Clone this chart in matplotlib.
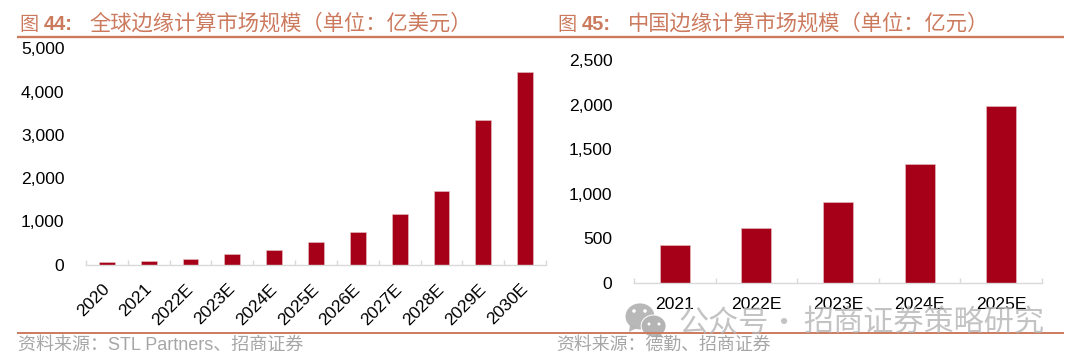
import matplotlib
matplotlib.use("Agg")
import matplotlib.pyplot as plt
from matplotlib.patches import Ellipse, Polygon
from matplotlib.transforms import ScaledTranslation

plt.rcParams['font.family'] = ['Liberation Sans', 'Noto Sans CJK SC']

# data
global_years = ["2020", "2021", "2022E", "2023E", "2024E", "2025E",
                "2026E", "2027E", "2028E", "2029E", "2030E"]
global_values = [56, 80, 128, 248, 333, 518, 764, 1174, 1713, 3343, 4454]
global_ticks = [0, 1000, 2000, 3000, 4000, 5000]

china_years = ["2021", "2022E", "2023E", "2024E", "2025E"]
china_values = [424, 619, 905, 1339, 1988]
china_ticks = [0, 500, 1000, 1500, 2000, 2500]

W, H = 1080, 363
RED = "#A50018"
RULE = "#CC7A5E"
GREY = "#A6A6A6"
CJK = ['Noto Sans CJK SC', 'Liberation Sans']

fig = plt.figure(figsize=(W / 100, H / 100), dpi=100)


def make_axes(x0, x1, y_top, y_bottom):
    return fig.add_axes([x0 / W, 1 - y_bottom / H, (x1 - x0) / W, (y_bottom - y_top) / H])


def draw_bars(ax, years, values, ticks, ymax, width, rotation):
    pos = list(range(len(years)))
    ax.bar(pos, values, width=width, color=RED, edgecolor="#E8C4C8", linewidth=0.4)
    ax.set_xlim(-0.5, len(years) - 0.5)
    ax.set_ylim(0, ymax)
    ax.set_yticks(ticks)
    ax.set_yticklabels([f"{t:,}" for t in ticks], fontsize=12.6, color="black")
    ax.tick_params(axis="y", length=0, pad=15.5)
    ax.set_xticks(pos)
    if rotation:
        ax.set_xticklabels(years, fontsize=12.6, rotation=rotation, ha="right",
                           rotation_mode="anchor")
        ax.tick_params(axis="x", which="major", length=0, pad=12)
        # nudge slanted labels left so their ends sit over the ticks
        shift = ScaledTranslation(-5 / 100, 0, fig.dpi_scale_trans)
        for lab in ax.get_xticklabels():
            lab.set_transform(lab.get_transform() + shift)
    else:
        ax.set_xticklabels(years, fontsize=12.6)
        ax.tick_params(axis="x", which="major", length=0, pad=10.5)
    ax.set_xticks([p - 0.5 for p in range(len(years) + 1)], minor=True)
    ax.tick_params(axis="x", which="minor", direction="in", length=3.6, width=1, color="#D9D9D9")
    for side in ["top", "right", "left"]:
        ax.spines[side].set_visible(False)
    ax.spines["bottom"].set_color("#D9D9D9")
    ax.spines["bottom"].set_linewidth(1)
    ax.patch.set_alpha(0)


ax1 = make_axes(86, 546, 48.5, 264.7)
draw_bars(ax1, global_years, global_values, global_ticks, 5000, 0.38, 45)

ax2 = make_axes(634, 1042, 60.5, 282.9)
draw_bars(ax2, china_years, china_values, china_ticks, 2500, 0.37, 0)

# overlay in pixel coordinates for titles, rules, notes and the watermark
ov = fig.add_axes([0, 0, 1, 1])
ov.set_xlim(0, W)
ov.set_ylim(H, 0)
ov.axis("off")
ov.patch.set_alpha(0)

ov.plot([17, 1064], [37, 37], color=RULE, lw=1.7, solid_capstyle="butt")
ov.plot([17, 1064], [333.3, 333.3], color=RULE, lw=1.4, solid_capstyle="butt")

for x, num, text in [(19, "44:", "全球边缘计算市场规模（单位：亿美元）"),
                     (557, "45:", "中国边缘计算市场规模（单位：亿元）")]:
    ov.text(x, 24, "图", fontsize=13.8, color=RULE, family=CJK, va="center")
    ov.text(x + 25, 24, num, fontsize=14.5, color=RULE, weight="bold", va="center")
    ov.text(x + 70.5, 24, text, fontsize=15.3, color=RULE, family=CJK, va="center")

ov.text(18, 345.5, "资料来源：STL Partners、招商证券", fontsize=13, color=GREY, va="center")
ov.text(556.5, 345.5, "资料来源：德勤、招商证券", fontsize=12.9, color=GREY, va="center")

# watermark
WM = "#B4B4B4"
ov.add_patch(Ellipse((640, 316.4), 29, 26, color=WM, alpha=0.95, lw=0))
ov.add_patch(Polygon([[630, 325], [629, 332], [637, 328]], color=WM, alpha=0.95, lw=0))
ov.add_patch(Ellipse((653.6, 326), 26, 23, color="white", lw=0))
ov.add_patch(Ellipse((653.6, 326), 24, 21, color=WM, lw=0))
ov.add_patch(Polygon([[660, 333], [664, 338], [654, 335]], color=WM, lw=0))
for ex, ey, r in [(634, 311, 3.6), (645, 311, 3.6), (649, 324, 3), (659, 324, 3)]:
    ov.add_patch(Ellipse((ex, ey), r, r, color="white", lw=0))
ov.text(678, 323, "公众号", fontsize=21.7, color=WM, alpha=0.8, family=CJK, va="center")
ov.text(783, 323, "·", fontsize=21.7, color=WM, alpha=0.8, family=CJK, va="center", ha="center")
ov.text(803.4, 323, "招商证券策略研究", fontsize=21.7, color=WM, alpha=0.8, family=CJK, va="center")

fig.savefig("out.png", dpi=100)
